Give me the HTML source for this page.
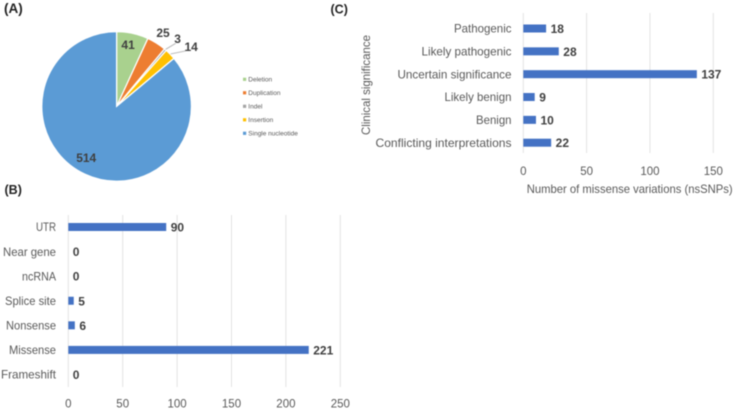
<!DOCTYPE html>
<html>
<head>
<meta charset="utf-8">
<style>
html,body{margin:0;padding:0;background:#fff;width:733px;height:409px;overflow:hidden}
svg{display:block;filter:blur(0.45px)}
text{font-family:"Liberation Sans",sans-serif}
</style>
</head>
<body>
<svg id="fig" width="733" height="409" viewBox="0 0 733 409" xmlns="http://www.w3.org/2000/svg">
  <text x="4" y="13" font-size="13.5" font-weight="bold" fill="#222">(A)</text>
  <text x="4.5" y="194" font-size="12.5" font-weight="bold" fill="#222">(B)</text>
  <text x="330.5" y="13.5" font-size="12.5" font-weight="bold" fill="#222">(C)</text>
  <g id="pie"></g>
  <g id="barsB"></g>
  <g id="barsC"></g>
</svg>
<script>
var pieCategories = ['Deletion', 'Duplication', 'Indel', 'Insertion', 'Single nucleotide'];
var pieValues = [41, 25, 3, 14, 514];
var pieColors = ['#a9d18e', '#ed7d31', '#a5a5a5', '#ffc000', '#5b9bd5'];

var bCategories = ['UTR', 'Near gene', 'ncRNA', 'Splice site', 'Nonsense', 'Missense', 'Frameshift'];
var bValues = [90, 0, 0, 5, 6, 221, 0];
var bTicks = [0, 50, 100, 150, 200, 250];

var cCategories = ['Pathogenic', 'Likely pathogenic', 'Uncertain significance', 'Likely benign', 'Benign', 'Conflicting interpretations'];
var cValues = [18, 28, 137, 9, 10, 22];
var cTicks = [0, 50, 100, 150];

var NS = 'http://www.w3.org/2000/svg';
function mk(parent, tag, attrs, txt) {
  var el = document.createElementNS(NS, tag);
  for (var k in attrs) el.setAttribute(k, attrs[k]);
  if (txt !== undefined) el.textContent = txt;
  parent.appendChild(el);
  return el;
}
function slug(s) { return String(s).toLowerCase().replace(/[^a-z0-9]+/g, '-'); }

/* Pie */
(function () {
  var g = document.getElementById('pie');
  var cx = 116.6, cy = 106.4, r = 74.8;
  var total = pieValues.reduce(function (a, b) { return a + b; }, 0);
  function pt(frac, rad) {
    var a = frac * 2 * Math.PI;
    return [cx + rad * Math.sin(a), cy - rad * Math.cos(a)];
  }
  var acc = 0;
  var mids = [];
  pieValues.forEach(function (v, i) {
    var f0 = acc / total, f1 = (acc + v) / total;
    acc += v;
    mids.push((f0 + f1) / 2);
    var p0 = pt(f0, r), p1 = pt(f1, r);
    var large = (f1 - f0) > 0.5 ? 1 : 0;
    var d = 'M' + cx + ' ' + cy + 'L' + p0[0] + ' ' + p0[1] + 'A' + r + ' ' + r + ' 0 ' + large + ' 1 ' + p1[0] + ' ' + p1[1] + 'Z';
    var s = mk(g, 'path', { d: d, fill: pieColors[i], stroke: '#fff', 'stroke-width': 1.2 });
    
    
  });
  /* label placement relative to each slice's mid-angle */
  var labelRad = [63, 87, 90, 95, 60];
  var labelShift = [[-2, 0], [0, 0], [2.3, 0.7], [6.4, 6.7], [-5, -3]];
  var leaderOffset = { 2: [10, -6], 3: [15, -3] };
  [2, 3].forEach(function (i) {
    var a = pt(mids[i], r + 0.5);
    var l = mk(g, 'polyline', { points: a[0] + ',' + a[1] + ' ' + (a[0] + leaderOffset[i][0]) + ',' + (a[1] + leaderOffset[i][1]), fill: 'none', stroke: '#b5b5b5', 'stroke-width': 0.9 });
    
    
  });
  pieValues.forEach(function (v, i) {
    var p = pt(mids[i], labelRad[i]);
    var t = mk(g, 'text', {
      x: p[0] + labelShift[i][0], y: p[1] + labelShift[i][1] + 4.3,
      'text-anchor': 'middle', 'font-size': 12, 'font-weight': 'bold', fill: '#404040'
    }, v);
    
    
  });
  /* Legend */
  pieCategories.forEach(function (c, i) {
    var y = 79.3 + i * 13.5;
    var m = mk(g, 'rect', { x: 243, y: y - 1.6, width: 3.2, height: 3.2, fill: pieColors[i] });
    
    
    var t = mk(g, 'text', { x: 248.3, y: y + 2.2, 'font-size': 6.5, fill: '#595959' }, c);
    
    
  });
})();

/* Horizontal bar chart helper */
function hbar(gid, prefix, categories, values, ticks, opt) {
  var g = document.getElementById(gid);
  function x(v) { return opt.x0 + (v - ticks[0]) * (opt.xMax - opt.x0) / (ticks[ticks.length - 1] - ticks[0]); }
  function y(i) { return opt.y0 + i * (opt.yN - opt.y0) / (categories.length - 1); }
  ticks.forEach(function (t) {
    var l = mk(g, 'line', { x1: x(t), x2: x(t), y1: opt.gridTop, y2: opt.gridBottom, stroke: '#e3e3e3', 'stroke-width': 1 });
    
    
    var s = mk(g, 'text', { x: x(t), y: opt.tickY, 'text-anchor': 'middle', 'font-size': 11.5, fill: '#595959' }, t);
    
    
  });
  categories.forEach(function (c, i) {
    var yc = y(i);
    var lab = mk(g, 'text', { x: opt.labelX - opt.labelLen[i], y: yc + 4.2, 'font-size': 12, fill: '#595959', textLength: opt.labelLen[i], lengthAdjust: 'spacingAndGlyphs' }, c);
    
    
    if (values[i] > 0) {
      var b = mk(g, 'rect', { x: x(0), y: yc - opt.barH / 2, width: x(values[i]) - x(0), height: opt.barH, fill: '#4472c4' });
      
      
    }
    var v = mk(g, 'text', { x: x(values[i]) + 4.5, y: yc + 4.5, 'font-size': 12, 'font-weight': 'bold', fill: '#404040' }, values[i]);
    
    
  });
}

hbar('barsB', 'consequence', bCategories, bValues, bTicks, {
  x0: 68.3, xMax: 340.3, y0: 227, yN: 374.5, barH: 8,
  gridTop: 215, gridBottom: 387, tickY: 407.5, labelX: 56,
  labelLen: [20, 53, 34, 51, 50, 47, 55]
});
hbar('barsC', 'significance', cCategories, cValues, cTicks, {
  x0: 523.3, xMax: 713.3, y0: 28.5, yN: 142.7, barH: 8,
  gridTop: 13, gridBottom: 153, tickY: 175, labelX: 511.5,
  labelLen: [57.5, 90, 114, 67, 35.5, 136]
});

(function () {
  var g = document.getElementById('barsC');
  var xt = mk(g, 'text', { x: 526.7, y: 193, 'font-size': 12, fill: '#595959', textLength: 206, lengthAdjust: 'spacingAndGlyphs' }, 'Number of missense variations (nsSNPs)');
  
  
  var yt = mk(g, 'text', { transform: 'translate(370,135) rotate(-90)', 'font-size': 12, fill: '#595959', textLength: 100, lengthAdjust: 'spacingAndGlyphs' }, 'Clinical significance');
  
  
})();
</script>
</body>
</html>
